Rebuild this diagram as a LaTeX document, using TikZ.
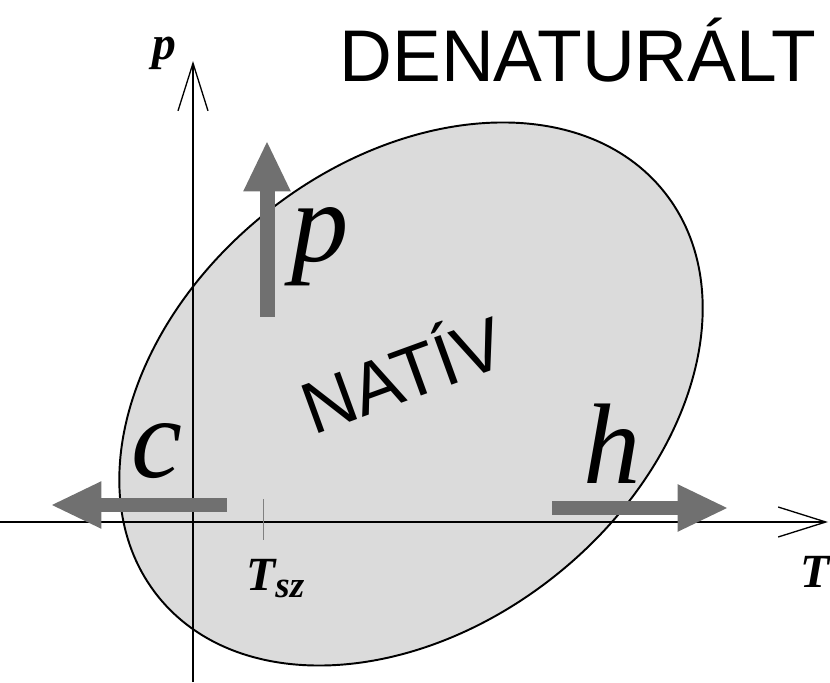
\documentclass[tikz,border=0pt]{standalone}
\usepackage{fontspec}
\setmainfont{Liberation Serif}
\newfontfamily\arialfont{Liberation Sans}
\usetikzlibrary{arrows.meta}
\definecolor{natfill}{gray}{0.86}
\definecolor{arrgray}{gray}{0.44}

\begin{document}
\begin{tikzpicture}[x=0.567pt,y=0.567pt,
    axis/.style={line width=0.75pt,-{Straight Barb[length=27pt,width=17pt]}},
    bigarrow/.style={color=arrgray,line width=8.5pt,-{Triangle[length=28pt,width=27pt,line width=0pt]}},
    biglabel/.style={font=\fontsize{65}{65}\selectfont\itshape,inner sep=0pt,anchor=base},
    smalllabel/.style={font=\fontsize{27}{27}\selectfont\bfseries\itshape,inner sep=0pt,anchor=base west},
    sanslabel/.style={font=\arialfont\fontsize{41.5}{41.5}\selectfont,inner sep=0pt}]
  \useasboundingbox (0,0) rectangle (830,682);
  % fazisdiagram
  \draw[line width=1.1pt,fill=natfill] (411,288) ellipse[x radius=324,y radius=232,rotate=38.6];
  % tengelyek
  \coordinate (tleft) at (0,160);
  \coordinate (tright) at (828,160);
  \coordinate (pdown) at (193,0);
  \coordinate (pup) at (193,621);
  \draw[axis] (tleft) -- (tright);
  \draw[axis] (pdown) -- (pup);
  \draw[gray,line width=0.5pt] (263,183) -- (263,142);
  % nyilak
  \coordinate (pfrom) at (267,365);
  \coordinate (pto) at (267,540);
  \coordinate (cfrom) at (227,177);
  \coordinate (cto) at (52,177);
  \coordinate (hfrom) at (552,174);
  \coordinate (hto) at (727,174);
  \draw[bigarrow] (pfrom) -- (pto);
  \draw[bigarrow] (cfrom) -- (cto);
  \draw[bigarrow] (hfrom) -- (hto);
  % feliratok
  \node (den) [sanslabel,anchor=base] at (578,600) {DENATURÁLT};
  \node (nativ) [sanslabel,rotate=20] at (401,312) {NATÍV};
  \node (plab) [biglabel] at (320,420) {p};
  \node (clab) [biglabel] at (157,205) {c};
  \node (hlab) [biglabel] at (612,199) {h};
  \node (tsz) [smalllabel] at (246,92) {T\raisebox{-4pt}{\fontsize{21}{21}\selectfont sz}};
  \node (tlab) [smalllabel] at (800,95) {T};
  \node (paxis) [smalllabel] at (152,622) {p};
\end{tikzpicture}
\end{document}
